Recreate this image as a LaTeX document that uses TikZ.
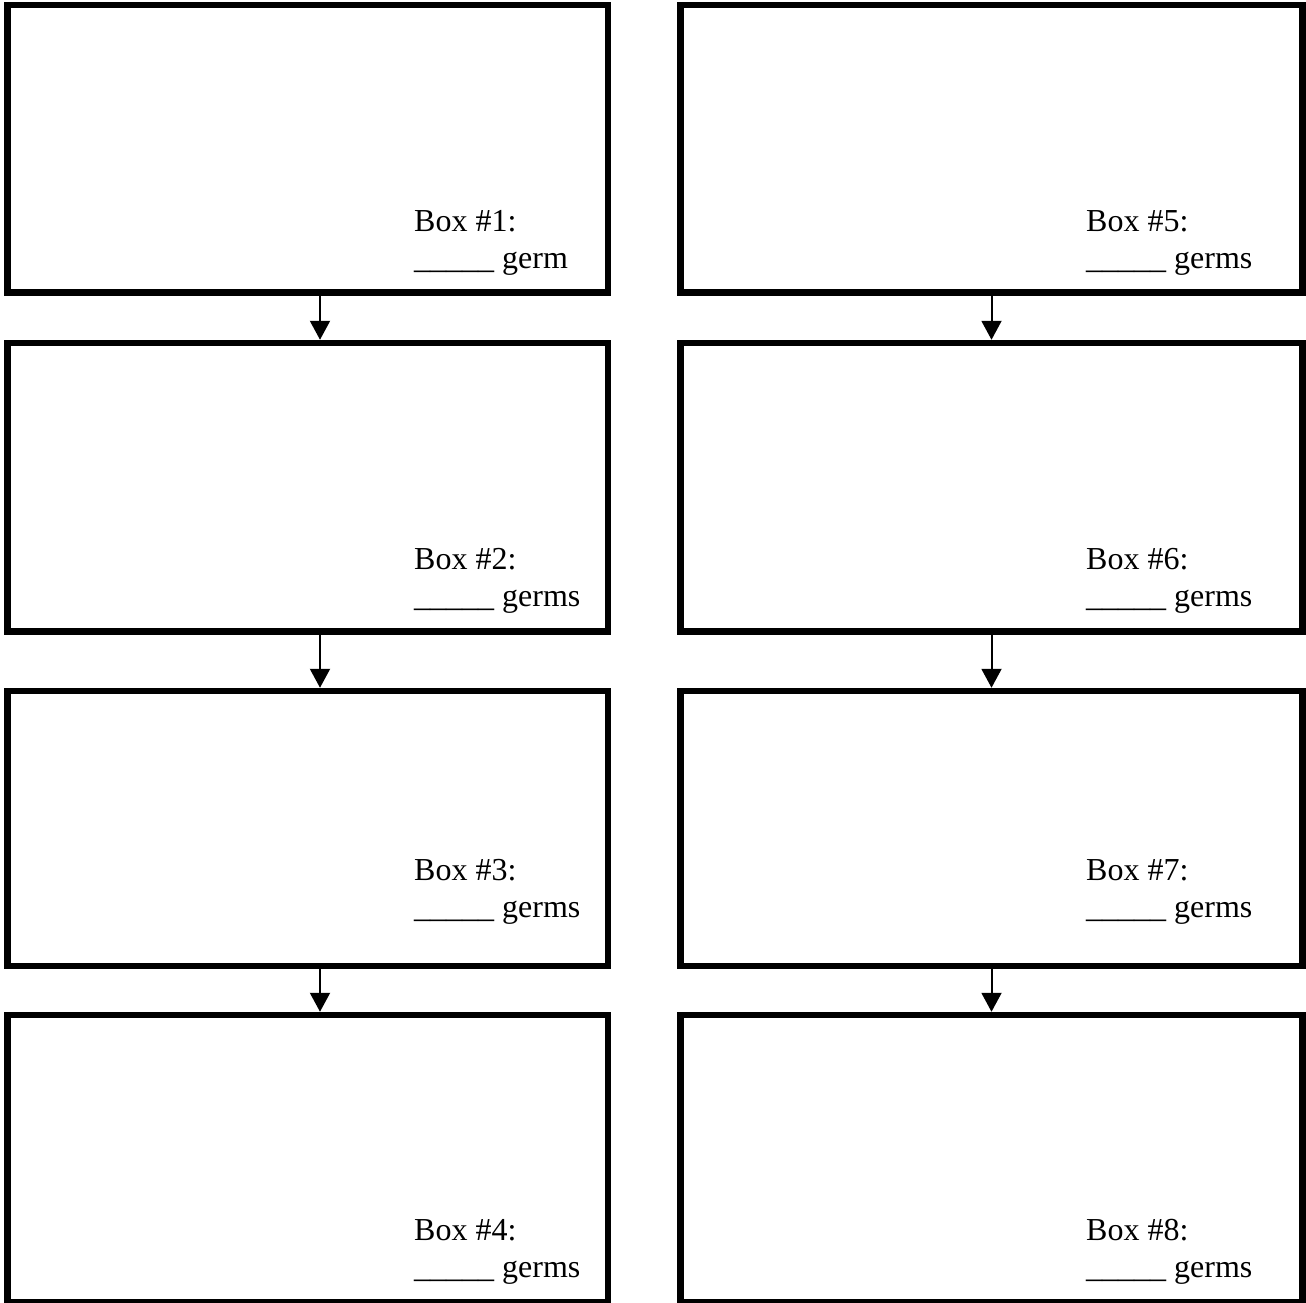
\documentclass[tikz,border=0pt]{standalone}
\usepackage{fontspec}
\setmainfont{Liberation Serif}
\usetikzlibrary{arrows.meta}
\begin{document}
\begin{tikzpicture}[x=1pt,y=-1pt,
  gbox/.style={draw=black,line width=6.5pt,rectangle,inner sep=0pt},
  lbl/.style={anchor=north west,inner sep=0pt,align=left,font=\fontsize{32}{37}\selectfont},
  arr/.style={line width=2pt,-{Triangle[width=20pt,length=19pt]}}]
\useasboundingbox (0,0) rectangle (1306,1302);
% left column
\node[gbox,minimum width=600.5pt,minimum height=287.5pt] (b1) at (307.75,148.75) {};
\node[gbox,minimum width=600.5pt,minimum height=288.5pt] (b2) at (307.75,487.25) {};
\node[gbox,minimum width=600.5pt,minimum height=275pt] (b3) at (307.75,828.5) {};
\node[gbox,minimum width=600.5pt,minimum height=287pt] (b4) at (307.75,1158.5) {};
% right column
\node[gbox,minimum width=622pt,minimum height=287.5pt] (b5) at (991.5,148.75) {};
\node[gbox,minimum width=622pt,minimum height=288.5pt] (b6) at (991.5,487.25) {};
\node[gbox,minimum width=622pt,minimum height=275pt] (b7) at (991.5,828.5) {};
\node[gbox,minimum width=622pt,minimum height=287pt] (b8) at (991.5,1158.5) {};
% labels
\node[lbl] (t1) at (414,210) {Box \#1:\\\_\_\_\_\_ germ};
\node[lbl] (t2) at (414,548) {Box \#2:\\\_\_\_\_\_ germs};
\node[lbl] (t3) at (414,859) {Box \#3:\\\_\_\_\_\_ germs};
\node[lbl] (t4) at (414,1219) {Box \#4:\\\_\_\_\_\_ germs};
\node[lbl] (t5) at (1086,210) {Box \#5:\\\_\_\_\_\_ germs};
\node[lbl] (t6) at (1086,548) {Box \#6:\\\_\_\_\_\_ germs};
\node[lbl] (t7) at (1086,859) {Box \#7:\\\_\_\_\_\_ germs};
\node[lbl] (t8) at (1086,1219) {Box \#8:\\\_\_\_\_\_ germs};
% arrows
\draw[arr] ([xshift=12.25pt]b1.south) -- ([xshift=12.25pt]b2.north);
\draw[arr] ([xshift=12.25pt]b2.south) -- ([xshift=12.25pt]b3.north);
\draw[arr] ([xshift=12.25pt]b3.south) -- ([xshift=12.25pt]b4.north);
\draw[arr] (b5.south) -- (b6.north);
\draw[arr] (b6.south) -- (b7.north);
\draw[arr] (b7.south) -- (b8.north);
\end{tikzpicture}
\end{document}
